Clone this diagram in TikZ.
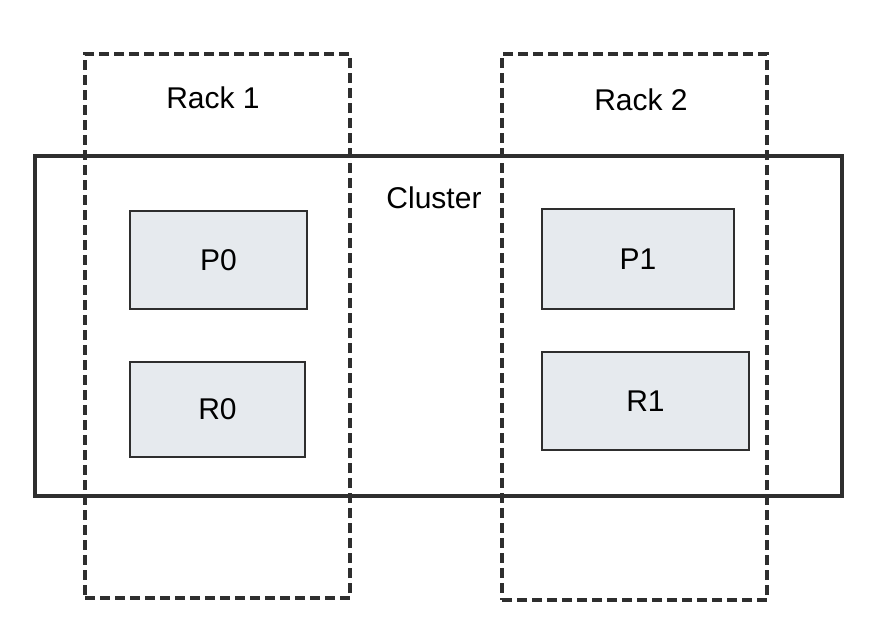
\documentclass[tikz,border=0pt]{standalone}
\usepackage{fontspec}
\setmainfont{Liberation Sans}
\usetikzlibrary{positioning}
\definecolor{boxfill}{HTML}{E6EAEE}
\definecolor{linegray}{HTML}{2E2E2E}
\tikzstyle{rack} = [rectangle, draw=linegray, line width=3.4pt, dash pattern=on 10pt off 5pt, inner sep=0pt]
\tikzstyle{cluster} = [rectangle, draw=linegray, line width=3.4pt, inner sep=0pt]
\tikzstyle{part} = [rectangle, draw=linegray, line width=2.6pt, fill=boxfill, inner sep=0pt, font=\fontsize{30}{34}\selectfont]
\tikzstyle{label} = [font=\fontsize{30}{34}\selectfont, inner sep=0pt]

\begin{document}
\begin{tikzpicture}[x=1pt, y=-1pt]
        \useasboundingbox [fill=white] (0,0) rectangle (878,624);

        \node (rackone) [rack, minimum width=265pt, minimum height=544pt] at (217.5,326) {};
        \node (racktwo) [rack, minimum width=265pt, minimum height=546pt] at (634.5,327) {};
        \node (cluster) [cluster, minimum width=807pt, minimum height=340pt] at (438.5,326) {};

        \node (rackonelabel) [label] at (213,98) {Rack 1};
        \node (racktwolabel) [label] at (641,100) {Rack 2};
        \node (clusterlabel) [label] at (434,198) {Cluster};

        \node (pzero) [part, minimum width=177pt, minimum height=98pt] at (218.5,260) {P0};
        \node (rzero) [part, minimum width=175pt, minimum height=95pt] at (217.5,409.5) {R0};
        \node (pone) [part, minimum width=192pt, minimum height=100pt] at (638,259) {P1};
        \node (rone) [part, minimum width=207pt, minimum height=98pt] at (645.5,401) {R1};

    \end{tikzpicture}
\end{document}
